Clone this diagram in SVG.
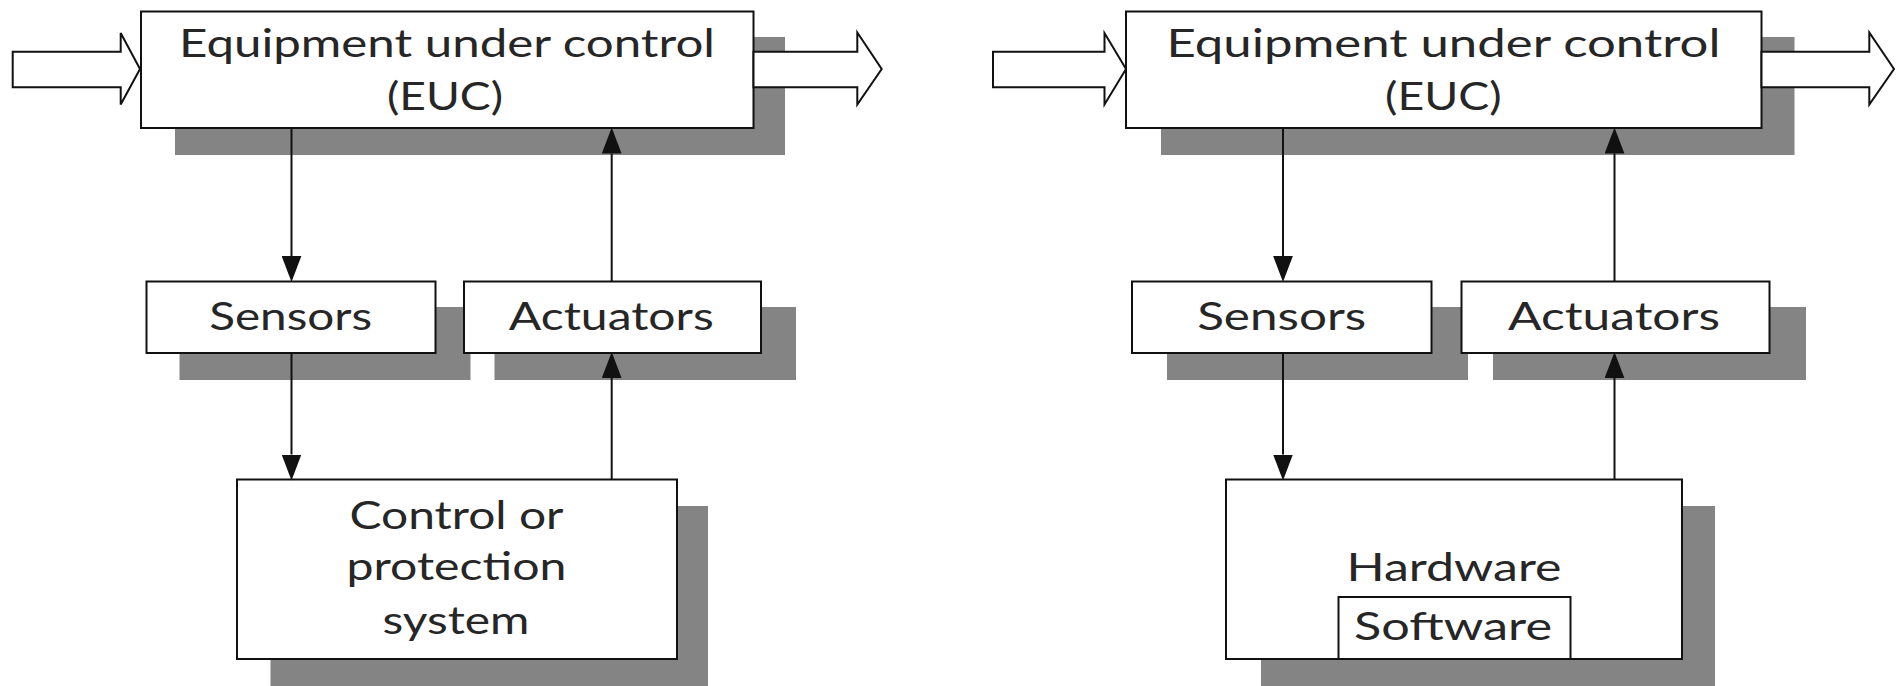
<svg xmlns="http://www.w3.org/2000/svg" width="1901" height="686" viewBox="0 0 1901 686">
  <style>
    .shadow { fill: #848484; stroke: none; }
    .box { fill: #ffffff; stroke: #111111; stroke-width: 2; }
    .label { font-family: Lato, "Open Sans", "Liberation Sans", sans-serif; font-size: 38px; font-weight: 400; fill: #262626; text-anchor: middle; }
    .wire { stroke: #111111; stroke-width: 2; fill: none; marker-end: url(#head); }
    .flow { fill: #ffffff; stroke: #111111; stroke-width: 2; stroke-linejoin: miter; }
  </style>
  <defs>
    <marker id="head" markerUnits="userSpaceOnUse" markerWidth="26" markerHeight="20" viewBox="0 0 25 19" refX="0" refY="9.5" orient="auto">
      <path d="M0,0 L25,9.5 L0,19 Z" fill="#111111"/>
    </marker>
  </defs>

  <rect width="1901" height="686" fill="#ffffff"/>

  <!-- ===== Left system: generic control / protection system ===== -->
  <g id="euc-left">
    <rect class="shadow" x="175" y="37" width="610" height="118"/>
    <rect class="box" x="141" y="11.5" width="612.5" height="116.5"/>
    <text class="label" x="447" y="56.5" textLength="536" lengthAdjust="spacingAndGlyphs">Equipment under control</text>
    <text class="label" x="445" y="110" textLength="116" lengthAdjust="spacingAndGlyphs">(EUC)</text>
  </g>

  <g id="sensors-left">
    <rect class="shadow" x="179.5" y="307" width="291" height="73"/>
    <rect class="box" x="146.5" y="281.5" width="289" height="71.5"/>
    <text class="label" x="290.7" y="329.7" textLength="163" lengthAdjust="spacingAndGlyphs">Sensors</text>
  </g>

  <g id="actuators-left">
    <rect class="shadow" x="494.5" y="307" width="301.5" height="73"/>
    <rect class="box" x="464" y="281.5" width="297" height="71.5"/>
    <text class="label" x="611.3" y="329.7" textLength="205" lengthAdjust="spacingAndGlyphs">Actuators</text>
  </g>

  <g id="control-system">
    <rect class="shadow" x="270.5" y="506" width="437.5" height="180"/>
    <rect class="box" x="237" y="479.5" width="440" height="179.5"/>
    <text class="label" x="456.5" y="529.3" textLength="214" lengthAdjust="spacingAndGlyphs">Control or</text>
    <text class="label" x="456.5" y="580" textLength="220" lengthAdjust="spacingAndGlyphs">protection</text>
    <text class="label" x="456" y="634.3" textLength="147" lengthAdjust="spacingAndGlyphs">system</text>
  </g>

  <!-- ===== Right system: hardware with embedded software ===== -->
  <g id="euc-right">
    <rect class="shadow" x="1161" y="37" width="633.5" height="118"/>
    <rect class="box" x="1126" y="11.5" width="635.5" height="116.5"/>
    <text class="label" x="1443.5" y="56.5" textLength="554" lengthAdjust="spacingAndGlyphs">Equipment under control</text>
    <text class="label" x="1443.3" y="110" textLength="116.5" lengthAdjust="spacingAndGlyphs">(EUC)</text>
  </g>

  <g id="sensors-right">
    <rect class="shadow" x="1167" y="307" width="301" height="73"/>
    <rect class="box" x="1132" y="281.5" width="299.5" height="71.5"/>
    <text class="label" x="1281.7" y="329.7" textLength="169" lengthAdjust="spacingAndGlyphs">Sensors</text>
  </g>

  <g id="actuators-right">
    <rect class="shadow" x="1493" y="307" width="313" height="73"/>
    <rect class="box" x="1461.5" y="281.5" width="308" height="71.5"/>
    <text class="label" x="1614" y="329.7" textLength="212" lengthAdjust="spacingAndGlyphs">Actuators</text>
  </g>

  <g id="hardware">
    <rect class="shadow" x="1261" y="506" width="454" height="180"/>
    <rect class="box" x="1226" y="479.5" width="456" height="179.5"/>
    <text class="label" x="1454" y="581" textLength="215" lengthAdjust="spacingAndGlyphs">Hardware</text>
  </g>

  <g id="software">
    <rect class="box" x="1338.5" y="597" width="232" height="62"/>
    <text class="label" x="1453" y="640" textLength="198" lengthAdjust="spacingAndGlyphs">Software</text>
  </g>

  <!-- ===== Connectors ===== -->
  <g id="connectors">
    <!-- left: EUC -> sensors -> control system -> actuators -> EUC -->
    <line class="wire" x1="291.5" y1="128.5" x2="291.5" y2="256"/>
    <line class="wire" x1="291.5" y1="353.5" x2="291.5" y2="454.5"/>
    <line class="wire" x1="611.7" y1="479.5" x2="611.7" y2="378"/>
    <line class="wire" x1="611.7" y1="281.5" x2="611.7" y2="153.5"/>

    <!-- right: EUC -> sensors -> hardware -> actuators -> EUC -->
    <line class="wire" x1="1283" y1="128.5" x2="1283" y2="256"/>
    <line class="wire" x1="1283" y1="353.5" x2="1283" y2="454.5"/>
    <line class="wire" x1="1614.5" y1="479.5" x2="1614.5" y2="378"/>
    <line class="wire" x1="1614.5" y1="281.5" x2="1614.5" y2="153.5"/>

    <!-- block arrows: material flow into and out of each EUC -->
    <polygon class="flow" points="12.7,51.7 120.7,51.7 120.7,33 140,69 120.7,104.5 120.7,87.3 12.7,87.3"/>
    <polygon class="flow" points="753.5,51.7 857.3,51.7 857.3,32.5 881.7,69 857.3,104.5 857.3,87.3 753.5,87.3"/>
    <polygon class="flow" points="993,51.7 1104.5,51.7 1104.5,33 1126,69 1104.5,104.5 1104.5,87.3 993,87.3"/>
    <polygon class="flow" points="1761.5,51.7 1869.3,51.7 1869.3,32.5 1894,69 1869.3,104.5 1869.3,87.3 1761.5,87.3"/>
  </g>
</svg>
